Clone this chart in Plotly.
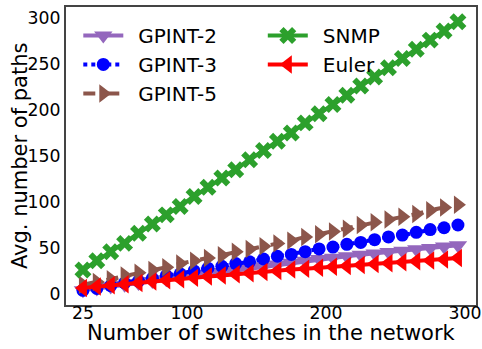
import plotly.graph_objects as go

# Network sizes (number of switches)
switches = [25, 35, 45, 55, 65, 75, 85, 95, 105, 115, 125, 135, 145, 155,
            165, 175, 185, 195, 205, 215, 225, 235, 245, 255, 265, 275, 285, 295]

# Average number of paths per method
gpint2 = [4, 6, 8, 10, 12, 14, 16, 18, 20, 22, 24, 26, 28, 30,
          32, 34, 36, 38, 39.5, 41, 42.5, 44, 45.5, 47, 48.5, 50, 51.5, 53]
gpint3 = [4, 6, 9, 12, 14, 17, 20, 22, 25, 28, 30, 33, 35, 38,
          41, 43, 46, 49, 51, 54, 56, 59, 62, 64, 67, 70, 72, 75]
gpint5 = [10, 13, 16, 20, 23, 26, 29, 33, 36, 39, 42, 46, 49, 52,
          55, 58, 62, 65, 68, 71, 75, 78, 81, 84, 87, 91, 94, 97]
snmp = [26, 36, 46, 55, 66, 76, 86, 95, 106, 116, 126, 135, 146, 156,
        166, 175, 186, 196, 206, 216, 226, 236, 246, 256, 266, 276, 286, 296]
euler = [6.5, 8, 9.5, 10.5, 12, 13.5, 15, 16, 17.5, 19, 20, 21.5, 22.5, 24,
         25, 26.5, 27.5, 28.5, 29.5, 30.5, 31.5, 32.5, 33.5, 34.5, 35.5, 36.5, 37.5, 39]

x_ticks = [25, 100, 200, 300]
y_ticks = [0, 50, 100, 150, 200, 250, 300]

FONT = "DejaVu Sans"
PAD = "\u2002"  # small gap between legend glyph and label

series = [
    ("GPINT-2", gpint2, "#9467bd", "triangle-down", 16, "solid", "legend"),
    ("GPINT-3", gpint3, "#0000ff", "circle", 13, "dot", "legend"),
    ("GPINT-5", gpint5, "#8c564b", "triangle-right", 16, "dash", "legend"),
    ("SNMP", snmp, "#2ca02c", "x", 15, "solid", "legend2"),
    ("Euler", euler, "#ff0000", "triangle-left", 16, "solid", "legend2"),
]

fig = go.Figure()
for name, vals, color, symbol, msize, dash, leg in series:
    fig.add_trace(go.Scatter(
        x=switches, y=vals, name=PAD + name, mode="lines+markers",
        line=dict(color=color, width=4, dash=dash),
        marker=dict(symbol=symbol, size=msize, color=color, line=dict(width=0)),
        legend=leg,
    ))

axis_common = dict(
    showline=True, mirror=True, linecolor="#444444", linewidth=2,
    showgrid=False, zeroline=False, ticks="", automargin=False,
    tickfont=dict(family=FONT, size=17.3, color="#000000"),
)

fig.update_layout(
    width=482, height=349,
    margin=dict(l=66, r=6, t=7, b=44),
    paper_bgcolor="white", plot_bgcolor="white",
    font=dict(family=FONT, color="#000000"),
    xaxis=dict(range=[12.8, 308], tickvals=x_ticks, ticklabelstandoff=-9,
               **axis_common),
    yaxis=dict(range=[-12, 312], tickvals=y_ticks, **axis_common),
    legend=dict(
        x=0.03, y=0.97, xanchor="left", yanchor="top",
        bgcolor="rgba(0,0,0,0)", font=dict(family=FONT, size=20),
        itemwidth=40,
    ),
    legend2=dict(
        x=0.48, y=0.97, xanchor="left", yanchor="top",
        bgcolor="rgba(0,0,0,0)", font=dict(family=FONT, size=20),
        itemwidth=40,
    ),
    annotations=[
        dict(text="Number of switches in the network", xref="paper", yref="paper",
             x=0.5, y=-0.094, xanchor="center", yanchor="middle", showarrow=False,
             font=dict(family=FONT, size=21, color="#000000")),
        dict(text="Avg. number of paths", xref="paper", yref="paper",
             x=-0.112, y=0.5, xanchor="center", yanchor="middle", showarrow=False,
             textangle=-90, font=dict(family=FONT, size=21, color="#000000")),
    ],
)

fig.write_html("out.html")
